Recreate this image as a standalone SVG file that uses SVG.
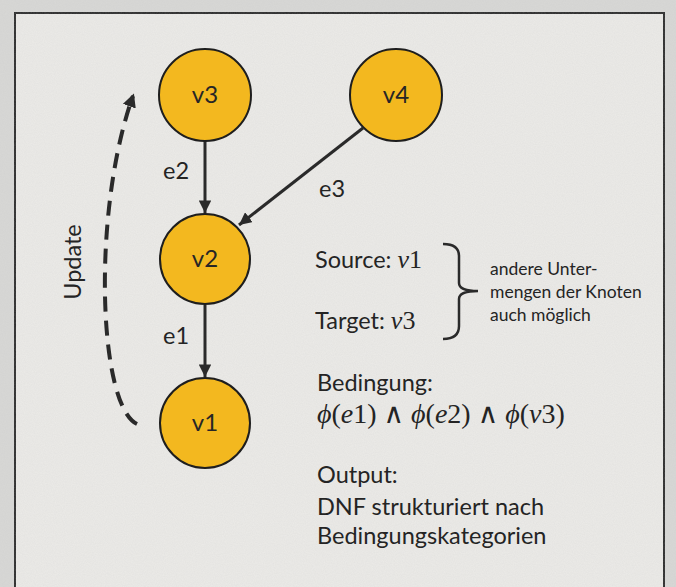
<svg xmlns="http://www.w3.org/2000/svg" width="676" height="587" viewBox="0 0 676 587">
  <defs>
    <style>
      .node circle { fill: #f3b81f; stroke: #1e1e1e; stroke-width: 2; }
      .node text { font-family: Lato, "Open Sans", sans-serif; font-size: 24px; fill: #262626; text-anchor: middle; }
      .edge { stroke: #2a2a2a; stroke-width: 3; fill: none; }
      .lbl { font-family: Lato, "Open Sans", sans-serif; font-size: 23.5px; fill: #242424; }
      .small { font-family: Lato, "Open Sans", sans-serif; font-size: 17.5px; fill: #242424; }
      .math { font-family: "Liberation Serif", "DejaVu Serif", serif; font-size: 26px; fill: #242424; }
      .formula { font-size: 28px; }
      .it { font-style: italic; }
    </style>
    <marker id="arrow" viewBox="0 0 10 10" refX="10" refY="5" markerWidth="4.2" markerHeight="4.2" orient="auto" markerUnits="strokeWidth">
      <path d="M0,0 L10,5 L0,10 Z" fill="#2a2a2a"/>
    </marker>
    <marker id="arrowDash" viewBox="0 0 10 10" refX="8" refY="5" markerWidth="3.4" markerHeight="3.4" orient="auto" markerUnits="strokeWidth">
      <path d="M0,0 L10,5 L0,10 Z" fill="#2a2a2a"/>
    </marker>
    <filter id="grain" x="0" y="0" width="100%" height="100%">
      <feTurbulence type="fractalNoise" baseFrequency="0.9" numOctaves="2" seed="3" result="n"/>
      <feColorMatrix in="n" type="matrix" values="0 0 0 0 0.5  0 0 0 0 0.5  0 0 0 0 0.5  0 0 0 0.18 0"/>
    </filter>
  </defs>

  <!-- paper and frame -->
  <rect x="0" y="0" width="676" height="587" fill="#d8d8d6"/>
  <rect x="15" y="13" width="649" height="590" fill="#ecebe8" stroke="#2a2a2a" stroke-width="2"/>
  <rect x="0" y="0" width="676" height="587" filter="url(#grain)"/>

  <!-- connectors -->
  <g id="connectors">
    <path id="e2" class="edge" d="M205,141 L205,213" marker-end="url(#arrow)"/>
    <path id="e1" class="edge" d="M205,305 L205,377" marker-end="url(#arrow)"/>
    <path id="e3" class="edge" d="M363,128 L239,225" marker-end="url(#arrow)"/>
    <path id="update" d="M137,424 C98,405 92,210 133,96" fill="none" stroke="#2a2a2a" stroke-width="4" stroke-dasharray="15 9" marker-end="url(#arrowDash)"/>
  </g>

  <!-- nodes -->
  <g id="v3" class="node"><circle cx="205" cy="95" r="46"/><text x="205" y="103">v3</text></g>
  <g id="v4" class="node"><circle cx="396" cy="95" r="46"/><text x="396" y="103">v4</text></g>
  <g id="v2" class="node"><circle cx="205" cy="259" r="45"/><text x="205" y="267">v2</text></g>
  <g id="v1" class="node"><circle cx="205" cy="423" r="45"/><text x="205" y="431">v1</text></g>

  <!-- edge labels -->
  <text class="lbl" x="163" y="179">e2</text>
  <text class="lbl" x="163" y="344">e1</text>
  <text class="lbl" x="319" y="197">e3</text>
  <text class="lbl" transform="translate(81,262) rotate(-90)" text-anchor="middle">Update</text>

  <!-- source / target -->
  <text class="lbl" x="315" y="268">Source: <tspan class="math it">v</tspan><tspan class="math">1</tspan></text>
  <text class="lbl" x="315" y="329">Target: <tspan class="math it">v</tspan><tspan class="math">3</tspan></text>
  <path d="M443,244 Q459,244 459,256 L459,283 Q459,291 478,291 Q459,291 459,299 L459,326 Q459,339 443,339" fill="none" stroke="#2a2a2a" stroke-width="2.5"/>
  <text class="small" x="490" y="275">andere Unter-</text>
  <text class="small" x="490" y="298">mengen der Knoten</text>
  <text class="small" x="490" y="321">auch möglich</text>

  <!-- condition and output -->
  <text class="lbl" x="317" y="391">Bedingung:</text>
  <text class="math formula" x="317" y="423"><tspan class="it">ϕ</tspan>(<tspan class="it">e</tspan>1) ∧ <tspan class="it">ϕ</tspan>(<tspan class="it">e</tspan>2) ∧ <tspan class="it">ϕ</tspan>(<tspan class="it">v</tspan>3)</text>
  <text class="lbl" x="317" y="483">Output:</text>
  <text class="lbl" x="317" y="515">DNF strukturiert nach</text>
  <text class="lbl" x="317" y="544">Bedingungskategorien</text>
</svg>
